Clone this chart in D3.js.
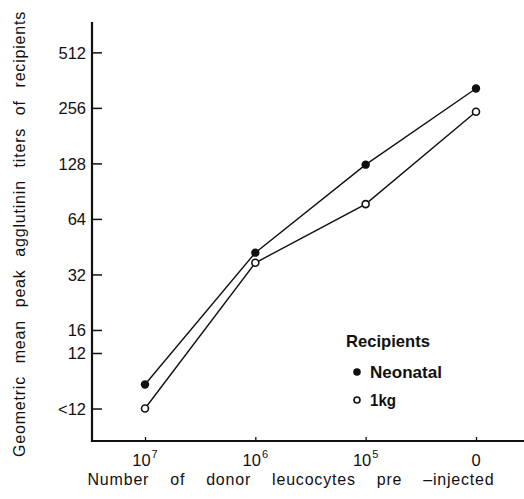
<!DOCTYPE html>
<html><head><meta charset="utf-8">
<script src="https://cdn.jsdelivr.net/npm/d3@7"></script>
<style>
body{margin:0;background:#fff;}
text{font-family:"Liberation Sans",Arial,sans-serif;fill:#111;}
</style></head>
<body><svg id="c" width="524" height="499"></svg>
<script>
const categories = ["10^7","10^6","10^5","0"];
const neonatal = [8.1, 42, 126, 326];
const oneKg = [6.0, 37, 77, 244];
const yTickValues = [6, 12, 16, 32, 64, 128, 256, 512];
const yTickLabels = ["<12","12","16","32","64","128","256","512"];
const seriesNames = ["Neonatal","1kg"];

const svg = d3.select("#c");
const x0 = 92, yBottom = 441, yTop = 22;
const x = d3.scalePoint().domain(categories).range([145, 476]);
const y = d3.scaleLog().base(2).domain([4, 748]).range([yBottom, yTop]);

function spreadWords(sel, target){
  const n = (sel.text().match(/ /g)||[]).length;
  const w = sel.node().getComputedTextLength();
  if(n>0) sel.attr("word-spacing", (target-w)/n);
}

// axes lines
svg.append("line").attr("x1",x0).attr("x2",x0).attr("y1",yTop).attr("y2",yBottom+1)
  .attr("stroke","#111").attr("stroke-width",2.2);
svg.append("line").attr("x1",x0-1).attr("x2",524).attr("y1",yBottom).attr("y2",yBottom)
  .attr("stroke","#111").attr("stroke-width",2.2);

// y ticks
const yAxis = d3.axisRight(y).tickValues(yTickValues)
  .tickFormat((d,i)=>yTickLabels[i]).tickSize(10).tickSizeOuter(0);
const gy = svg.append("g").attr("transform",`translate(${x0},0)`).call(yAxis);
gy.select(".domain").remove();
gy.selectAll(".tick line").attr("stroke","#111").attr("stroke-width",1.5);
gy.selectAll(".tick text").attr("x",-6).attr("text-anchor","end")
  .attr("font-size",16.5).attr("fill","#111").attr("dy","0.36em")
  .attr("font-family","Liberation Sans, Arial, sans-serif");

// x ticks
const xAxis = d3.axisTop(x).tickSize(4).tickSizeOuter(0).tickFormat("");
const gx = svg.append("g").attr("transform",`translate(0,${yBottom})`).call(xAxis);
gx.select(".domain").remove();
gx.selectAll(".tick line").attr("stroke","#111").attr("stroke-width",1.3);
categories.forEach(c=>{
  const t = svg.append("text").attr("x",x(c)).attr("y",466).attr("text-anchor","middle")
    .attr("font-size",16.5);
  if(c.includes("^")){
    const [b,e]=c.split("^");
    t.append("tspan").text(b);
    t.append("tspan").attr("dy",-8).attr("font-size",11).attr("dx",1).text(e);
  } else t.text(c);
});

// axis titles
const xt = svg.append("text").attr("x",291).attr("y",485).attr("text-anchor","middle")
  .attr("font-size",16).attr("letter-spacing",0.8).text("Number of donor leucocytes pre –injected");
spreadWords(xt, 407);
const yt = svg.append("text").attr("transform","translate(25,234) rotate(-90)")
  .attr("text-anchor","middle").attr("font-size",16).attr("letter-spacing",0.8)
  .text("Geometric mean peak agglutinin titers of recipients");
spreadWords(yt, 446);

// lines
const line = d3.line().x((d,i)=>x(categories[i])).y(d=>y(d));
[neonatal, oneKg].forEach(s=>{
  svg.append("path").attr("d",line(s)).attr("fill","none")
    .attr("stroke","#111").attr("stroke-width",1.4);
});
svg.selectAll(".pn").data(neonatal).enter().append("circle")
  .attr("cx",(d,i)=>x(categories[i])).attr("cy",d=>y(d)).attr("r",4.2).attr("fill","#111");
svg.selectAll(".pk").data(oneKg).enter().append("circle")
  .attr("cx",(d,i)=>x(categories[i])).attr("cy",d=>y(d)).attr("r",3.5)
  .attr("fill","#fff").attr("stroke","#111").attr("stroke-width",1.6);

// legend
svg.append("text").attr("x",346).attr("y",347).attr("font-size",17).attr("font-weight","bold")
  .attr("textLength",84).attr("lengthAdjust","spacingAndGlyphs").text("Recipients");
svg.append("circle").attr("cx",357).attr("cy",372).attr("r",3.8).attr("fill","#111");
svg.append("text").attr("x",370).attr("y",378).attr("font-size",17).attr("font-weight","bold")
  .attr("textLength",72).attr("lengthAdjust","spacingAndGlyphs").text(seriesNames[0]);
svg.append("circle").attr("cx",357).attr("cy",400).attr("r",3).attr("fill","#fff")
  .attr("stroke","#111").attr("stroke-width",1.6);
svg.append("text").attr("x",370).attr("y",406).attr("font-size",17).attr("font-weight","bold")
  .attr("textLength",26).attr("lengthAdjust","spacingAndGlyphs").text(seriesNames[1]);
</script></body></html>
